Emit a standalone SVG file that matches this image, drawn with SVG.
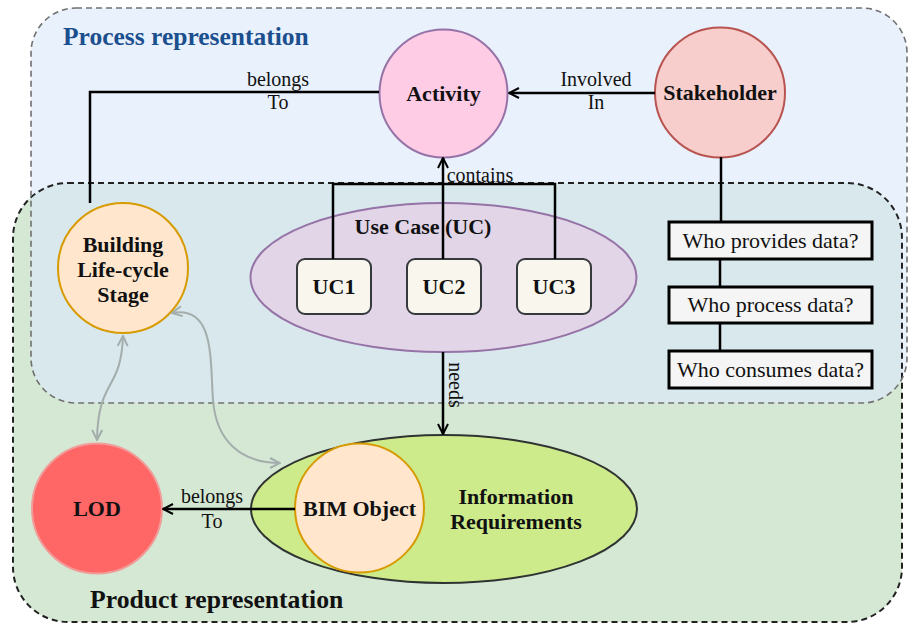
<svg xmlns="http://www.w3.org/2000/svg" width="909" height="623" viewBox="0 0 909 623">
<style>
text{font-family:"Liberation Serif","Times New Roman",serif;fill:#111;}
.b{font-weight:bold;font-size:22px;text-anchor:middle;}
.l{font-size:20px;text-anchor:middle;}
.q{font-size:22px;text-anchor:middle;}
.conn{fill:none;stroke:#000;stroke-width:2.5;}
.gray{fill:none;stroke:#a3aeac;stroke-width:2;}
.qbox{fill:#f5f5f5;stroke:#000;stroke-width:3;}
.uc{fill:#f9f7ed;stroke:#36393d;stroke-width:2;}
</style>
<defs>
<marker id="arr" viewBox="0 0 12 12" refX="11" refY="6" markerWidth="12" markerHeight="12" markerUnits="userSpaceOnUse" orient="auto-start-reverse">
<path d="M1,1 L11,6 L1,11" fill="none" stroke="#000" stroke-width="2"/>
</marker>
<marker id="garr" viewBox="0 0 12 12" refX="11" refY="6" markerWidth="12" markerHeight="12" markerUnits="userSpaceOnUse" orient="auto-start-reverse">
<path d="M1,1 L11,6 L1,11" fill="none" stroke="#a3aeac" stroke-width="2"/>
</marker>
</defs>
<rect width="909" height="623" fill="#ffffff"/>
<g id="containers">
<rect x="13" y="183" width="889" height="439" rx="55" ry="55" fill="#d5e8d4"/>
<rect x="31" y="8" width="876" height="395" rx="45" ry="45" fill="#dae8fc" fill-opacity="0.6"/>
<rect x="13" y="183" width="889" height="439" rx="55" ry="55" fill="none" stroke="#222" stroke-width="2" stroke-dasharray="6 4"/>
<rect x="31" y="8" width="876" height="395" rx="45" ry="45" fill="none" stroke="#707070" stroke-width="1.6" stroke-dasharray="6 4"/>
<text x="63" y="45" style="font-weight:bold;font-size:25.5px;fill:#1b4f8e">Process representation</text>
<text x="90" y="608" style="font-weight:bold;font-size:25.7px">Product representation</text>
</g>
<g id="activity">
<circle cx="443.5" cy="93.5" r="64" fill="#ffcce6" stroke="#9673a6" stroke-width="2"/>
<text class="b" x="443.5" y="101">Activity</text>
</g>
<g id="stakeholder">
<circle cx="720" cy="92.5" r="65" fill="#f8cecc" stroke="#b85450" stroke-width="2"/>
<text class="b" x="720" y="100">Stakeholder</text>
</g>
<g id="building-stage">
<circle cx="123" cy="268" r="65" fill="#ffe6cc" stroke="#d79b00" stroke-width="2"/>
<text class="b" x="123" y="252">Building</text>
<text class="b" x="123" y="277">Life-cycle</text>
<text class="b" x="123" y="302">Stage</text>
</g>
<g id="use-case">
<ellipse cx="443.5" cy="277.5" rx="193" ry="74.5" fill="#e1d5e7" stroke="#9673a6" stroke-width="2"/>
<text class="b" x="423" y="234">Use Case (UC)</text>
</g>
<g id="uc1">
<rect class="uc" x="297" y="259" width="74" height="55" rx="8"/>
<text class="b" x="334" y="294">UC1</text>
</g>
<g id="uc2">
<rect class="uc" x="407" y="259" width="74" height="55" rx="8"/>
<text class="b" x="444" y="294">UC2</text>
</g>
<g id="uc3">
<rect class="uc" x="517" y="259" width="74" height="55" rx="8"/>
<text class="b" x="554" y="294">UC3</text>
</g>
<g id="q-provides">
<rect class="qbox" x="669" y="222" width="203" height="37"/>
<text class="q" x="770.5" y="248">Who provides data?</text>
</g>
<g id="q-process">
<rect class="qbox" x="669" y="287" width="203" height="36"/>
<text class="q" x="770.5" y="312">Who process data?</text>
</g>
<g id="q-consumes">
<rect class="qbox" x="669" y="351" width="203" height="37"/>
<text class="q" x="770.5" y="377">Who consumes data?</text>
</g>
<g id="info-req">
<ellipse cx="444" cy="509" rx="193" ry="74" fill="#cdeb8b" stroke="#2f3332" stroke-width="2"/>
<text class="b" x="516" y="504">Information</text>
<text class="b" x="516" y="529">Requirements</text>
</g>
<g id="bim-object">
<circle cx="359.5" cy="508" r="64.5" fill="#ffe6cc" stroke="#d79b00" stroke-width="2"/>
<text class="b" x="359.5" y="516">BIM Object</text>
</g>
<g id="lod">
<circle cx="97" cy="508.5" r="65" fill="#ff6666" stroke="#f19c99" stroke-width="2"/>
<text class="b" x="97" y="516">LOD</text>
</g>
<g id="connectors">
<polyline class="conn" points="379,92 90,92 90,203"/>
<text class="l" x="278" y="86">belongs</text>
<text class="l" x="278" y="109">To</text>
<line class="conn" x1="655" y1="93" x2="509" y2="93" marker-end="url(#arr)"/>
<text class="l" x="596" y="86">Involved</text>
<text class="l" x="596" y="109">In</text>
<polyline class="conn" points="333,259 333,184 555,184 555,259"/>
<line class="conn" x1="443" y1="259" x2="443" y2="158" marker-end="url(#arr)"/>
<text class="l" x="480" y="182">contains</text>
<line class="conn" x1="443" y1="352" x2="443" y2="434" marker-end="url(#arr)"/>
<text class="l" transform="translate(449,385) rotate(90)">needs</text>
<line class="conn" x1="295" y1="509" x2="163" y2="509" marker-end="url(#arr)"/>
<text class="l" x="212" y="503">belongs</text>
<text class="l" x="212" y="528">To</text>
<polyline class="conn" points="721,157 721,222"/>
<line class="conn" x1="720" y1="259" x2="720" y2="287"/>
<line class="conn" x1="720" y1="323" x2="720" y2="351"/>
<path class="gray" d="M123,336 C121,392 98,378 97,440" marker-start="url(#garr)" marker-end="url(#garr)"/>
<path class="gray" d="M172,313 C215,305 210,360 213,400 C216,440 240,463 280,463" marker-start="url(#garr)" marker-end="url(#garr)"/>
</g>
</svg>
